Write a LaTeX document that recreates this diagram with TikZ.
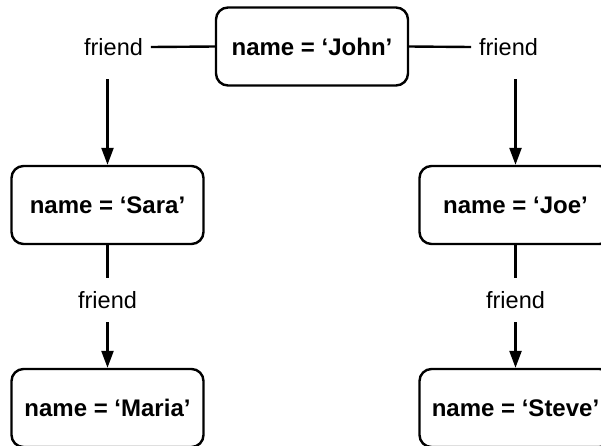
\documentclass[tikz,border=0pt]{standalone}
\usepackage{fontspec}
\setmainfont{Liberation Sans}
\usetikzlibrary{arrows.meta}
\begin{document}
\begin{tikzpicture}[x=1pt,y=-1pt,
  rec/.style={draw,line width=2.4pt,rounded corners=12pt,minimum width=192pt,minimum height=78pt,inner sep=0pt,font=\fontsize{24}{28}\selectfont\bfseries},
  lbl/.style={inner sep=0pt,font=\fontsize{23.5}{28}\selectfont},
  lblh/.style={lbl,outer xsep=8pt},
  lblv/.style={lbl,outer ysep=13.5pt},
  conn/.style={line width=2.4pt},
  arr/.style={conn,-{Triangle[length=17pt,width=12pt]}}]
\useasboundingbox (0,0) rectangle (601,445);
\clip (0,0) rectangle (601,445);
\node[rec] (john) at (312,46.5) {name = ‘John’};
\node[rec] (sara) at (107.5,205) {name = ‘Sara’};
\node[rec] (joe) at (515.5,205) {name = ‘Joe’};
\node[rec] (maria) at (107.5,408) {name = ‘Maria’};
\node[rec] (steve) at (515.5,408) {name = ‘Steve’};
\node[lblh] (fl1) at (113.5,47) {friend};
\node[lblh] (fr1) at (508.5,47) {friend};
\node[lblv] (fl2) at (107.5,300) {friend};
\node[lblv] (fr2) at (515.5,300) {friend};
\coordinate (al) at (107.5,79);
\coordinate (ar) at (515.5,79);
\draw[conn] (john.west) -- (fl1.east);
\draw[conn] (john.east) -- (fr1.west);
\draw[arr] (al) -- (sara.north);
\draw[arr] (ar) -- (joe.north);
\draw[conn] (sara.south) -- (fl2.north);
\draw[conn] (joe.south) -- (fr2.north);
\draw[arr] (fl2.south) -- (maria.north);
\draw[arr] (fr2.south) -- (steve.north);
\end{tikzpicture}
\end{document}
